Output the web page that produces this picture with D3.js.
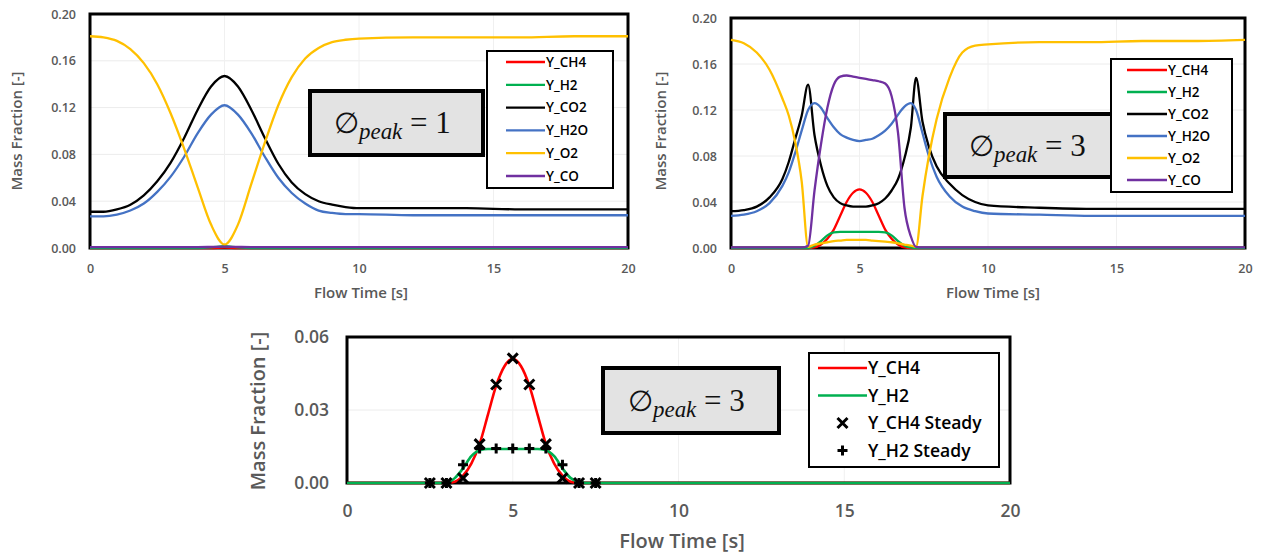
<!DOCTYPE html>
<html><head><meta charset="utf-8">
<script src="https://cdn.jsdelivr.net/npm/d3@7"></script>
<style>
html,body{margin:0;padding:0;background:#fff;}
svg{display:block;font-family:"Open Sans",sans-serif;}
</style></head>
<body><svg id="c" width="1265" height="555"></svg>
<script>
// ---------------- DATA ----------------
const seriesNames = ["Y_CH4","Y_H2","Y_CO2","Y_H2O","Y_O2","Y_CO"];
const xTicks = [0,5,10,15,20];
const yTicksTop = [0,0.04,0.08,0.12,0.16,0.20];
const yTicksBottom = [0,0.03,0.06];

// Chart 1: phi_peak = 1
const t1 = [0,0.5,1,1.5,2,2.5,3,3.5,4,4.5,5,5.5,6,6.5,7,7.5,8,8.5,9,9.5,10,12,14,16,18,20];
const ch4_1 = [0,0,0,0,0,0,0,0,0,0,0.0003,0,0,0,0,0,0,0,0,0,0,0,0,0,0,0];
const h2_1  = [0,0,0,0,0,0,0,0,0,0.0005,0.0015,0.0005,0,0,0,0,0,0,0,0,0,0,0,0,0,0];
const co2_1 = [0.031,0.031,0.033,0.037,0.045,0.057,0.073,0.094,0.118,0.138,0.147,0.138,0.118,0.094,0.072,0.056,0.046,0.040,0.037,0.035,0.034,0.034,0.034,0.033,0.033,0.033];
const h2o_1 = [0.027,0.027,0.0285,0.032,0.038,0.048,0.061,0.078,0.098,0.114,0.122,0.114,0.098,0.078,0.060,0.047,0.038,0.032,0.030,0.029,0.029,0.028,0.028,0.028,0.028,0.028];
const o2_1  = [0.181,0.180,0.177,0.170,0.158,0.140,0.115,0.085,0.052,0.020,0.003,0.020,0.055,0.090,0.122,0.146,0.162,0.171,0.176,0.178,0.179,0.180,0.180,0.180,0.181,0.181];
const co_1  = [0.0008,0.0008,0.0008,0.0008,0.0008,0.0008,0.0008,0.0008,0.0008,0.0009,0.0012,0.0009,0.0008,0.0008,0.0008,0.0008,0.0008,0.0008,0.0008,0.0008,0.0008,0.0008,0.0008,0.0008,0.0008,0.0008];

// Chart 2 & 3: phi_peak = 3
const t3 = [0,0.5,1,1.5,2,2.25,2.5,2.75,3,3.25,3.5,3.75,4,4.25,4.5,4.75,5,5.25,5.5,5.75,6,6.25,6.5,6.75,7,7.2,7.45,7.7,8,8.5,9,9.5,10,12,14,16,18,20];
const ch4_3 = [0,0,0,0,0,0,0,0,0,0.0005,0.003,0.008,0.016,0.028,0.040,0.048,0.051,0.048,0.040,0.028,0.016,0.008,0.003,0.0005,0,0,0,0,0,0,0,0,0,0,0,0,0,0];
const h2_3  = [0,0,0,0,0,0,0,0,0,0.002,0.006,0.011,0.0135,0.014,0.014,0.014,0.014,0.014,0.014,0.014,0.0135,0.011,0.006,0.002,0.0005,0,0,0,0,0,0,0,0,0,0,0,0,0];
const co2_3 = [0.032,0.033,0.036,0.044,0.060,0.075,0.095,0.115,0.142,0.098,0.072,0.054,0.044,0.039,0.037,0.036,0.036,0.036,0.037,0.039,0.043,0.050,0.060,0.078,0.105,0.148,0.110,0.088,0.071,0.056,0.046,0.040,0.037,0.035,0.034,0.034,0.034,0.034];
const h2o_3 = [0.028,0.029,0.032,0.039,0.054,0.066,0.083,0.102,0.120,0.126,0.122,0.113,0.105,0.099,0.096,0.094,0.093,0.094,0.095,0.098,0.102,0.108,0.116,0.123,0.126,0.120,0.100,0.080,0.062,0.045,0.036,0.032,0.030,0.029,0.028,0.028,0.028,0.028];
const o2_3  = [0.181,0.178,0.170,0.155,0.130,0.115,0.092,0.058,0.001,0.003,0.004,0.005,0.006,0.0065,0.007,0.007,0.007,0.007,0.0065,0.006,0.0055,0.005,0.004,0.003,0.002,0.001,0.045,0.080,0.112,0.148,0.170,0.176,0.177,0.179,0.179,0.180,0.180,0.181];
const co_3  = [0.0005,0.0005,0.0005,0.0005,0.0005,0.0005,0.0005,0.0005,0.002,0.050,0.090,0.122,0.142,0.149,0.150,0.149,0.148,0.147,0.146,0.145,0.143,0.132,0.100,0.035,0.010,0.001,0.0005,0.0005,0.0005,0.0005,0.0005,0.0005,0.0005,0.0005,0.0005,0.0005,0.0005,0.0005];

// Steady-state points (chart 3)
const tSteady = [2.5,3,3.5,4,4.5,5,5.5,6,6.5,7,7.5];
const ch4Steady = [0,0,0.002,0.016,0.0405,0.0512,0.0405,0.016,0.002,0,0];
const h2Steady  = [0,0,0.0075,0.0142,0.0142,0.0142,0.0142,0.0142,0.0075,0,0];

const colors = {"Y_CH4":"#ff0000","Y_H2":"#00b050","Y_CO2":"#000000","Y_H2O":"#4472c4","Y_O2":"#ffc000","Y_CO":"#7030a0"};

// --------------- DRAW ---------------
const svg = d3.select("#c");
const grey = "#595959";

function zip(t, v){ return t.map((x,i)=>({t:x,v:v[i]})); }

function chart(o){
  const x = d3.scaleLinear().domain([0,20]).range([o.x0,o.x1]);
  const y = d3.scaleLinear().domain([0,o.ymax]).range([o.y0,o.y1]);
  const g = svg.append("g");
  g.selectAll(".gy").data(o.yTicks).join("line")
    .attr("x1",o.x0).attr("x2",o.x1).attr("y1",d=>y(d)).attr("y2",d=>y(d))
    .attr("stroke","#ececec").attr("stroke-width",1);
  g.selectAll(".gx").data(xTicks).join("line")
    .attr("y1",o.y0).attr("y2",o.y1).attr("x1",d=>x(d)).attr("x2",d=>x(d))
    .attr("stroke","#f0f0f0").attr("stroke-width",1);
  const ax = g.append("g").attr("transform",`translate(0,${o.y0})`)
    .call(d3.axisBottom(x).tickValues(xTicks).tickSize(0).tickPadding(o.xPad).tickFormat(d3.format("d")));
  const ay = g.append("g").attr("transform",`translate(${o.x0},0)`)
    .call(d3.axisLeft(y).tickValues(o.yTicks).tickSize(0).tickPadding(o.yPad).tickFormat(d3.format(".2f")));
  [ax,ay].forEach(a=>{a.select(".domain").remove();
    a.selectAll("text").attr("fill",grey).attr("font-size",o.fs).attr("font-weight",600).attr("font-family","Open Sans, sans-serif");});
  g.append("rect").attr("x",o.x0).attr("y",o.y1).attr("width",o.x1-o.x0).attr("height",o.y0-o.y1)
    .attr("fill","none").attr("stroke","#000").attr("stroke-width",o.bw);
  const line = d3.line().x(d=>x(d.t)).y(d=>y(d.v)).curve(d3.curveMonotoneX);
  o.series.forEach(s=>{
    g.append("path").attr("d",line(zip(s.t,s.v))).attr("fill","none")
      .attr("stroke",colors[s.name]).attr("stroke-width",o.lw).attr("stroke-linejoin","round");
  });
  if(o.markers){
    o.markers.forEach(m=>{
      g.selectAll(null).data(zip(m.t,m.v)).join("path")
        .attr("transform",d=>`translate(${x(d.t)},${y(d.v)})`)
        .attr("d",m.shape).attr("stroke","#000").attr("stroke-width",m.sw).attr("fill","none");
    });
  }
  g.append("text").attr("x",o.xtX).attr("y",o.xtY).attr("text-anchor","middle")
    .attr("fill",grey).attr("font-size",o.tfs).attr("font-weight",600).text("Flow Time [s]");
  g.append("text").attr("transform",`translate(${o.ytX},${o.ytY}) rotate(-90)`).attr("text-anchor","middle")
    .attr("fill",grey).attr("font-size",o.tfs).attr("font-weight",600).text("Mass Fraction [-]");
  const b=o.phi;
  g.append("rect").attr("x",b.x).attr("y",b.y).attr("width",b.w).attr("height",b.h)
    .attr("fill","#e3e3e3").attr("stroke","#000").attr("stroke-width",4);
  const pt = g.append("text").attr("x",b.tx).attr("y",b.ty).attr("font-family","Liberation Serif, serif").attr("font-size",b.fs).attr("fill","#111");
  pt.append("tspan").attr("font-family","DejaVu Serif, serif").attr("font-size",b.fs*0.92).text("∅");
  pt.append("tspan").attr("font-style","italic").attr("font-size",b.fs*0.74).attr("dy",b.fs*0.2).text("peak");
  pt.append("tspan").attr("dy",-b.fs*0.2).text(" = "+b.val);
  const L=o.legend;
  g.append("rect").attr("x",L.x).attr("y",L.y).attr("width",L.w).attr("height",L.h)
    .attr("fill","#fff").attr("stroke","#000").attr("stroke-width",2);
  L.items.forEach((it,i)=>{
    const yy = L.iy + i*L.dy;
    if(it.type==="line"){
      g.append("line").attr("x1",L.lx1).attr("x2",L.lx2).attr("y1",yy).attr("y2",yy)
        .attr("stroke",colors[it.name]).attr("stroke-width",o.lw);
    } else {
      g.append("path").attr("transform",`translate(${(L.lx1+L.lx2)/2},${yy})`).attr("d",it.shape)
        .attr("stroke","#000").attr("stroke-width",it.sw).attr("fill","none");
    }
    g.append("text").attr("x",L.tx).attr("y",yy).attr("dy","0.35em").attr("font-size",L.fs)
      .attr("font-weight",600).attr("fill","#000").text(it.label);
  });
}

const xShape = "M-5,-5L5,5M-5,5L5,-5";
const pShape = "M-5,0H5M0,-5V5";

chart({x0:90,x1:628,y0:248,y1:14,ymax:0.2,yTicks:yTicksTop,fs:12.5,tfs:15,lw:2.3,bw:3,xPad:16,yPad:14,
  xtX:361,xtY:298,ytX:22,ytY:131,
  series:[{name:"Y_CH4",t:t1,v:ch4_1},{name:"Y_H2",t:t1,v:h2_1},{name:"Y_CO2",t:t1,v:co2_1},{name:"Y_H2O",t:t1,v:h2o_1},{name:"Y_O2",t:t1,v:o2_1},{name:"Y_CO",t:t1,v:co_1}],
  phi:{x:310,y:91,w:173,h:64,tx:334,ty:133,fs:31,val:"1"},
  legend:{x:487,y:51,w:126,h:137,iy:62,dy:22.8,lx1:506,lx2:545,tx:546,fs:13.5,
    items:seriesNames.map(n=>({type:"line",name:n,label:n}))}
});

chart({x0:731,x1:1245,y0:248,y1:18,ymax:0.2,yTicks:yTicksTop,fs:12.5,tfs:15,lw:2.3,bw:3,xPad:16,yPad:14,
  xtX:993,xtY:298,ytX:666,ytY:131,
  series:[{name:"Y_CH4",t:t3,v:ch4_3},{name:"Y_H2",t:t3,v:h2_3},{name:"Y_CO2",t:t3,v:co2_3},{name:"Y_H2O",t:t3,v:h2o_3},{name:"Y_O2",t:t3,v:o2_3},{name:"Y_CO",t:t3,v:co_3}],
  phi:{x:945,y:114,w:175,h:63,tx:969,ty:156,fs:31,val:"3"},
  legend:{x:1111,y:59,w:121,h:133,iy:70,dy:22,lx1:1127,lx2:1167,tx:1168,fs:13.5,
    items:seriesNames.map(n=>({type:"line",name:n,label:n}))}
});

chart({x0:347,x1:1010,y0:483,y1:337,ymax:0.06,yTicks:yTicksBottom,fs:17.5,tfs:20,lw:2.6,bw:3,xPad:22,yPad:18,
  xtX:682,xtY:548,ytX:265,ytY:411,
  series:[{name:"Y_CH4",t:t3,v:ch4_3},{name:"Y_H2",t:t3,v:h2_3}],
  markers:[{t:tSteady,v:ch4Steady,shape:xShape,sw:3},{t:tSteady,v:h2Steady,shape:pShape,sw:3}],
  phi:{x:603,y:368,w:176,h:65,tx:628,ty:411,fs:31,val:"3"},
  legend:{x:809,y:353,w:190,h:114,iy:368,dy:27.5,lx1:818,lx2:867,tx:868,fs:17.5,
    items:[{type:"line",name:"Y_CH4",label:"Y_CH4"},{type:"line",name:"Y_H2",label:"Y_H2"},
           {type:"marker",shape:xShape,sw:3,label:"Y_CH4 Steady"},{type:"marker",shape:pShape,sw:3,label:"Y_H2 Steady"}]}
});
</script></body></html>
